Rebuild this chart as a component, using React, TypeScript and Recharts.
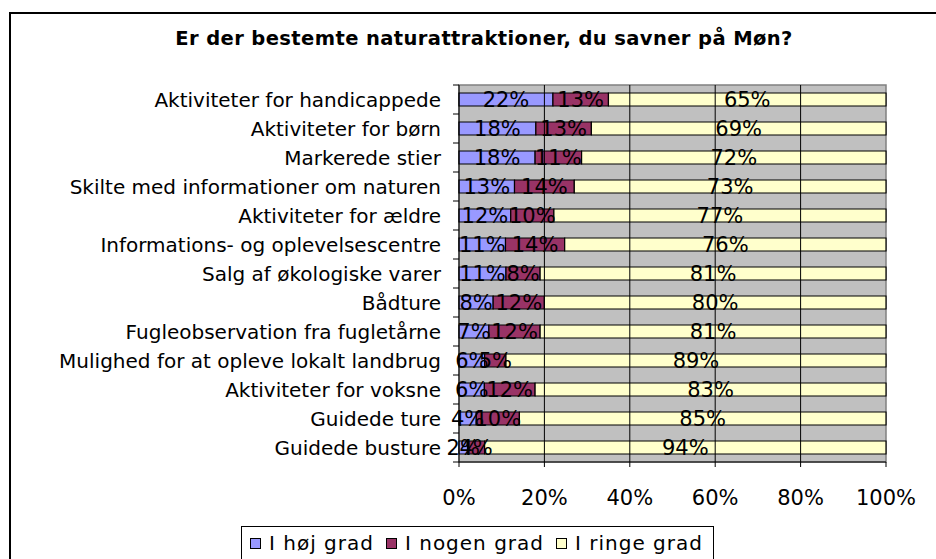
import { BarChart, Bar, XAxis, YAxis, CartesianGrid, Legend, LabelList, ReferenceLine, ReferenceArea } from 'recharts'

// ----------------------------------------------------------------------------
// Data
// ----------------------------------------------------------------------------

const CATEGORIES = [
  'Aktiviteter for handicappede',
  'Aktiviteter for børn',
  'Markerede stier',
  'Skilte med informationer om naturen',
  'Aktiviteter for ældre',
  'Informations- og oplevelsescentre',
  'Salg af økologiske varer',
  'Bådture',
  'Fugleobservation fra fugletårne',
  'Mulighed for at opleve lokalt landbrug',
  'Aktiviteter for voksne',
  'Guidede ture',
  'Guidede busture',
]

const HOEJ_GRAD = [22, 18, 18, 13, 12, 11, 11, 8, 7, 6, 6, 4, 2]
const NOGEN_GRAD = [13, 13, 11, 14, 10, 14, 8, 12, 12, 5, 12, 10, 4]
const RINGE_GRAD = [65, 69, 72, 73, 77, 76, 81, 80, 81, 89, 83, 85, 94]

const X_TICKS = [0, 0.2, 0.4, 0.6, 0.8, 1]
const GRID_LINES = [0.2, 0.4, 0.6, 0.8]

const TITLE = 'Er der bestemte naturattraktioner, du savner på Møn?'

const SERIES = [
  { key: 'hoej', name: 'I høj grad', color: '#9999FF' },
  { key: 'nogen', name: 'I nogen grad', color: '#993366' },
  { key: 'ringe', name: 'I ringe grad', color: '#FFFFCC' },
]

const data = CATEGORIES.map((name, i) => ({
  name,
  hoej: HOEJ_GRAD[i],
  nogen: NOGEN_GRAD[i],
  ringe: RINGE_GRAD[i],
}))

const FONT = '"DejaVu Sans", Verdana, sans-serif'

// ----------------------------------------------------------------------------
// Ticks & legend
// ----------------------------------------------------------------------------

// Category labels, with tick marks drawn between the categories (Excel style)
function CategoryTick(props: any) {
  const { x, y, payload, index } = props
  const half = payload?.offset || 14.5
  const axisX = x + 8
  return (
    <g>
      <text
        x={axisX - 18}
        y={y}
        dy="0.36em"
        textAnchor="end"
        fill="#000"
        style={{ fontFamily: FONT, fontSize: 20 }}
      >
        {payload.value}
      </text>
      <line x1={axisX - 6} x2={axisX} y1={y + half} y2={y + half} stroke="#000" />
      {index === 0 && <line x1={axisX - 6} x2={axisX} y1={y - half} y2={y - half} stroke="#000" />}
    </g>
  )
}

function PercentTick(props: any) {
  const { x, y, payload } = props
  return (
    <text
      x={x}
      y={y + 36}
      textAnchor="middle"
      fill="#000"
      style={{ fontFamily: FONT, fontSize: 21 }}
    >
      {`${Math.round(payload.value * 100)}%`}
    </text>
  )
}

function LegendBox(props: any) {
  const items = props.payload || []
  return (
    <div
      style={{
        boxSizing: 'border-box',
        width: 473,
        height: 33,
        display: 'flex',
        alignItems: 'center',
        border: '1px solid #000',
        borderBottom: 'none',
        background: '#fff',
        paddingLeft: 8,
        fontFamily: FONT,
        fontSize: 20,
        letterSpacing: 1,
        whiteSpace: 'nowrap',
      }}
    >
      {items.map((item: any) => (
        <span key={item.value} style={{ display: 'inline-flex', alignItems: 'center', marginRight: 12 }}>
          <span
            style={{
              display: 'inline-block',
              boxSizing: 'border-box',
              width: 11,
              height: 11,
              border: '1px solid #000',
              background: item.color,
              marginRight: 8,
            }}
          />
          {item.value}
        </span>
      ))}
    </div>
  )
}

// ----------------------------------------------------------------------------
// Component
// ----------------------------------------------------------------------------

export default function App() {
  return (
    <div
      style={{
        position: 'absolute',
        left: 0,
        top: 0,
        width: 936,
        height: 559,
        overflow: 'hidden',
        background: '#fff',
      }}
    >
      <div
        style={{
          position: 'absolute',
          left: 9,
          top: 12,
          width: 960,
          height: 580,
          border: '2px solid #000',
        }}
      />
      <div
        style={{
          position: 'absolute',
          left: 0,
          width: 968,
          top: 27,
          textAlign: 'center',
          fontFamily: FONT,
          fontWeight: 'bold',
          fontSize: 19.5,
          letterSpacing: 0.4,
        }}
      >
        {TITLE}
      </div>
      <div style={{ position: 'absolute', left: 0, top: 0 }}>
        <BarChart
          width={936}
          height={559}
          data={data}
          layout="vertical"
          stackOffset="expand"
          barSize={13}
          margin={{ top: 85, right: 50, bottom: 0, left: 0 }}
        >
          <CartesianGrid fill="#C0C0C0" stroke="none" horizontal={false} vertical={false} />
          <ReferenceArea x1={0} x2={1} fill="none" stroke="#808080" strokeWidth={1.5} />
          {GRID_LINES.map(v => (
            <ReferenceLine key={v} x={v} stroke="#000" />
          ))}
          <XAxis
            type="number"
            domain={[0, 1]}
            ticks={X_TICKS}
            height={64}
            stroke="#000"
            tickSize={5}
            tick={<PercentTick />}
          />
          <YAxis
            type="category"
            dataKey="name"
            width={459}
            stroke="#000"
            tickLine={false}
            interval={0}
            tick={<CategoryTick />}
          />
          <Legend
            verticalAlign="bottom"
            wrapperStyle={{ left: 241, width: 473, bottom: 0 }}
            content={<LegendBox />}
          />
          {SERIES.map(s => (
            <Bar
              key={s.key}
              dataKey={s.key}
              name={s.name}
              stackId="a"
              fill={s.color}
              stroke="#000"
              strokeWidth={1.2}
              isAnimationActive={false}
            >
              <LabelList
                dataKey={s.key}
                position="center"
                formatter={(v: any) => `${v}%`}
                style={{ fontFamily: FONT, fontSize: 21, fill: '#000' }}
              />
            </Bar>
          ))}
        </BarChart>
      </div>
    </div>
  )
}
